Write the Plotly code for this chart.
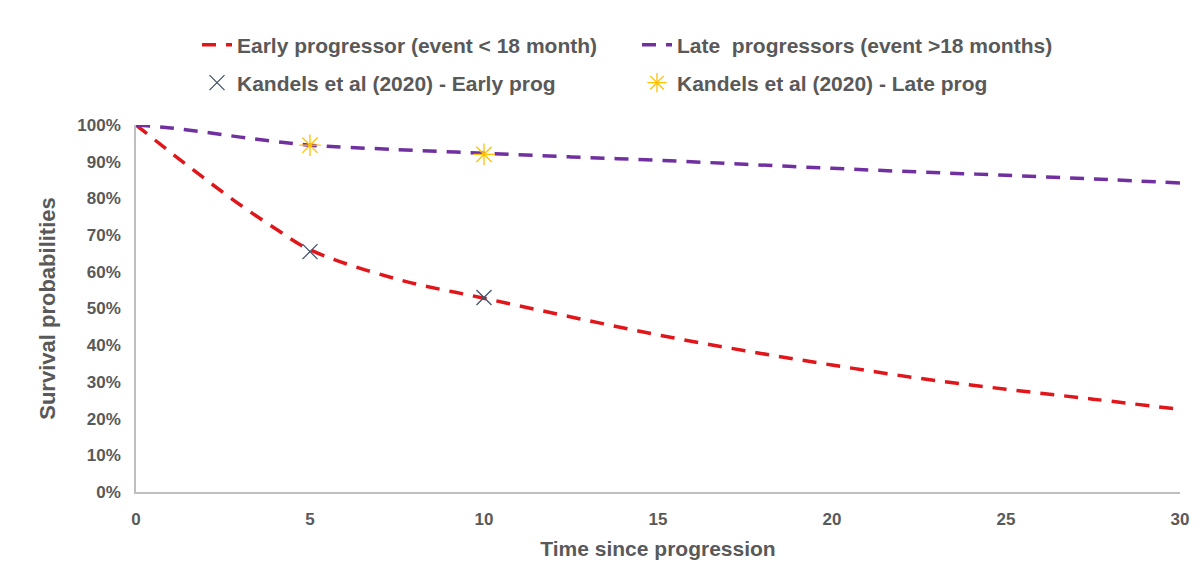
import plotly.graph_objects as go

# Data
months = [0, 1, 2, 3, 4, 5, 7.5, 10, 12.5, 15, 17.5, 20, 22.5, 25, 27.5, 30]
early_surv = [1.000, 0.925, 0.852, 0.782, 0.718, 0.660, 0.580, 0.528, 0.477, 0.428,
              0.385, 0.346, 0.310, 0.280, 0.253, 0.225]
late_surv = [1.000, 0.992, 0.980, 0.967, 0.955, 0.945, 0.933, 0.923, 0.913, 0.904,
             0.893, 0.882, 0.872, 0.863, 0.853, 0.842]

kandels_months = [5, 10]
kandels_early = [0.655, 0.530]
kandels_late = [0.945, 0.920]

labels = [
    "Early progressor (event < 18 month)",
    "Late  progressors (event >18 months)",
    "Kandels et al (2020) - Early prog",
    "Kandels et al (2020) - Late prog",
]

x_ticks = [0, 5, 10, 15, 20, 25, 30]
y_ticks = [0, 0.1, 0.2, 0.3, 0.4, 0.5, 0.6, 0.7, 0.8, 0.9, 1.0]

TXT = "#595959"
FONT = "Liberation Sans, Arial, sans-serif"

fig = go.Figure()
fig.add_trace(go.Scatter(
    x=months, y=early_surv, mode="lines", name=labels[0],
    line=dict(color="#E0161B", width=3.5, dash="14px,10px", shape="spline"),
    legend="legend"))
fig.add_trace(go.Scatter(
    x=months, y=late_surv, mode="lines", name=labels[1],
    line=dict(color="#7030A0", width=3.5, dash="14px,10px", shape="spline"),
    legend="legend"))
fig.add_trace(go.Scatter(
    x=kandels_months, y=kandels_early, mode="markers", name=labels[2],
    marker=dict(symbol="x-thin-open", size=15, color="#44546A",
                line=dict(color="#44546A", width=1.3)),
    legend="legend2"))
fig.add_trace(go.Scatter(
    x=kandels_months, y=kandels_late, mode="markers", name=labels[3],
    marker=dict(symbol="asterisk-open", size=18, color="#FFC000",
                line=dict(color="#FFC000", width=1.3)),
    legend="legend2"))

legend_common = dict(
    orientation="h", xref="container", yref="container",
    xanchor="left", yanchor="middle",
    font=dict(family=FONT, size=21, color=TXT, weight="bold"),
    entrywidth=395, entrywidthmode="pixels",
    bgcolor="rgba(0,0,0,0)", itemwidth=30,
)

fig.update_layout(
    width=1200, height=585,
    paper_bgcolor="white", plot_bgcolor="white",
    margin=dict(l=128, r=28, t=117, b=101, autoexpand=False),
    font=dict(family=FONT, color=TXT),
    legend=dict(x=0.1575, y=1 - 37 / 585, **legend_common),
    legend2=dict(x=0.1575, y=1 - 75 / 585, **legend_common),
    xaxis=dict(
        range=[0, 30], tickvals=x_ticks, ticktext=[str(v) for v in x_ticks],
        showgrid=False, zeroline=False, showline=True, linecolor="#BFBFBF", linewidth=1.5,
        ticks="", ticklabelstandoff=11, automargin=False,
        tickfont=dict(family=FONT, size=17, color=TXT, weight="bold"),
        title=dict(text="Time since progression", standoff=13,
                   font=dict(family=FONT, size=21, color=TXT, weight="bold")),
    ),
    yaxis=dict(
        range=[0, 1], tickvals=y_ticks, tickformat=".0%",
        showgrid=False, zeroline=False, showline=True, linecolor="#BFBFBF", linewidth=1.5,
        ticks="", ticklabelstandoff=10, automargin=False,
        tickfont=dict(family=FONT, size=17, color=TXT, weight="bold"),
        title=dict(text="Survival probabilities", standoff=16,
                   font=dict(family=FONT, size=22, color=TXT, weight="bold")),
    ),
)

fig.write_html("out.html")
